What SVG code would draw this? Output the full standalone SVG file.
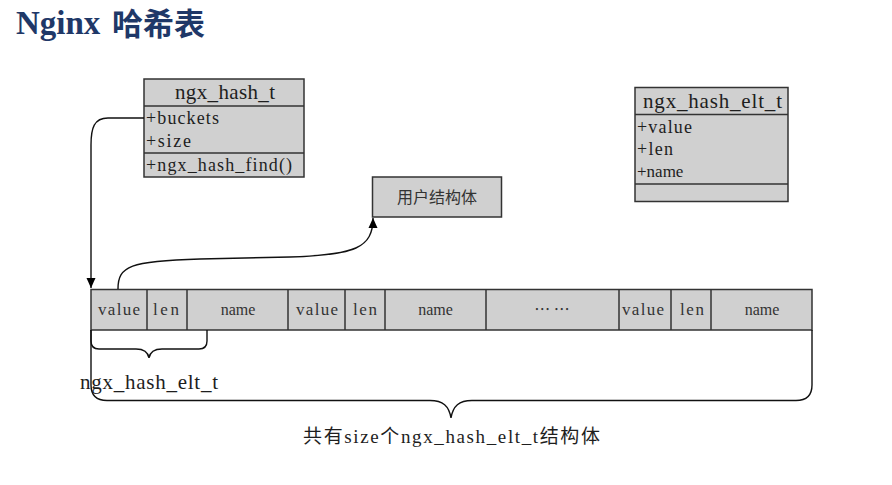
<svg xmlns="http://www.w3.org/2000/svg" width="892" height="485" viewBox="0 0 892 485">
  <style>
    .box { fill: #d0d0d0; stroke: #333; stroke-width: 1.5; }
    .sep { stroke: #333; stroke-width: 1.5; fill: none; }
    .t { font-family: "Liberation Serif", "Noto Sans CJK SC", serif; fill: #1e1e1e; }
    .cell { font-family: "Liberation Serif", "Noto Sans CJK SC", serif; font-size: 17px; fill: #333; }
    .nm { font-size: 16px; text-anchor: middle; }
    .cjk { font-family: "Noto Sans CJK SC", sans-serif; }
    .title { font-weight: bold; fill: #1f3868; }
    .conn { fill: none; stroke: #111; stroke-width: 1.4; }
    .brace { fill: none; stroke: #111; stroke-width: 1.4; }
  </style>
  <defs>
    <marker id="arrow" markerUnits="userSpaceOnUse" markerWidth="10" markerHeight="10" viewBox="0 0 10 10" refX="10" refY="5" orient="auto">
      <path d="M0,0.5 L10,5 L0,9.5 Z" fill="#000"/>
    </marker>
  </defs>
  <rect width="892" height="485" fill="#fff"/>

  <g id="title">
    <text class="title" x="16" y="34" font-size="33" font-family="Liberation Serif, serif">Nginx</text>
    <text class="title cjk" x="112" y="35" font-size="31">哈希表</text>
  </g>

  <g id="ngx_hash_t">
    <rect class="box" x="144" y="79" width="160" height="98"/>
    <line class="sep" x1="144" y1="106" x2="304" y2="106"/>
    <line class="sep" x1="144" y1="153" x2="304" y2="153"/>
    <text class="t" x="175" y="99" font-size="21" textLength="100" lengthAdjust="spacing">ngx_hash_t</text>
    <text class="t" x="146" y="124" font-size="18" textLength="73" lengthAdjust="spacing">+buckets</text>
    <text class="t" x="146" y="147" font-size="18" textLength="45" lengthAdjust="spacing">+size</text>
    <text class="t" x="146" y="171" font-size="18" textLength="146" lengthAdjust="spacing">+ngx_hash_find()</text>
  </g>

  <g id="ngx_hash_elt_t">
    <rect class="box" x="635" y="87.5" width="153" height="114"/>
    <line class="sep" x1="635" y1="114.5" x2="788" y2="114.5"/>
    <line class="sep" x1="635" y1="184" x2="788" y2="184"/>
    <text class="t" x="643" y="108" font-size="21" textLength="139" lengthAdjust="spacing">ngx_hash_elt_t</text>
    <text class="t" x="637" y="133" font-size="18" textLength="55" lengthAdjust="spacing">+value</text>
    <text class="t" x="637" y="155" font-size="18" textLength="36" lengthAdjust="spacing">+len</text>
    <text class="t" x="637" y="177" font-size="17">+name</text>
  </g>

  <g id="user_struct">
    <rect class="box" x="372.5" y="177" width="129" height="40"/>
    <text class="cjk" x="437" y="203" font-size="16" fill="#333" text-anchor="middle">用户结构体</text>
  </g>

  <g id="hash_array">
    <rect class="box" x="91" y="289.5" width="721" height="40.5"/>
    <line class="sep" x1="147" y1="289.5" x2="147" y2="330"/>
    <line class="sep" x1="187" y1="289.5" x2="187" y2="330"/>
    <line class="sep" x1="288" y1="289.5" x2="288" y2="330"/>
    <line class="sep" x1="345" y1="289.5" x2="345" y2="330"/>
    <line class="sep" x1="385" y1="289.5" x2="385" y2="330"/>
    <line class="sep" x1="486" y1="289.5" x2="486" y2="330"/>
    <line class="sep" x1="619" y1="289.5" x2="619" y2="330"/>
    <line class="sep" x1="671" y1="289.5" x2="671" y2="330"/>
    <line class="sep" x1="711" y1="289.5" x2="711" y2="330"/>
    <text class="cell" x="98" y="315" textLength="42" lengthAdjust="spacing">value</text>
    <text class="cell" x="153" y="315" textLength="26" lengthAdjust="spacing">len</text>
    <text class="cell nm" x="238" y="315">name</text>
    <text class="cell" x="296" y="315" textLength="42" lengthAdjust="spacing">value</text>
    <text class="cell" x="353" y="315" textLength="24" lengthAdjust="spacing">len</text>
    <text class="cell nm" x="435.5" y="315">name</text>
    <text class="cjk" x="552" y="315" font-size="16" fill="#333" text-anchor="middle">… …</text>
    <text class="cell" x="622" y="315" textLength="42" lengthAdjust="spacing">value</text>
    <text class="cell" x="680" y="315" textLength="24" lengthAdjust="spacing">len</text>
    <text class="cell nm" x="762" y="315">name</text>
  </g>

  <g id="braces">
    <path class="brace" d="M91,330 L91,341 Q91,349 99,349 L136,349 C144,349 148,352 149,358 C150,352 154,349 162,349 L199,349 Q207,349 207,341 L207,330"/>
    <path class="brace" d="M91,330 L91,385 Q91,400.5 107,400.5 L430,400.5 C443,400.5 449,406 451,418 C453,406 459,400.5 472,400.5 L796,400.5 Q812,400.5 812,385 L812,330"/>
    <text class="t" x="80" y="389" font-size="21" fill="#222" textLength="138" lengthAdjust="spacing">ngx_hash_elt_t</text>
    <text class="t" x="303" y="443" font-size="19" fill="#222" textLength="297" lengthAdjust="spacing">共有size个ngx_hash_elt_t结构体</text>
  </g>

  <g id="connectors">
    <path class="conn" d="M144,118 L108,118 C94,118 91,128 91,145 L91,288" marker-end="url(#arrow)"/>
    <path class="conn" d="M118,289 C118,266 130,261 200,259 L290,257 C355,255 373,248 373,218" marker-end="url(#arrow)"/>
  </g>
</svg>
